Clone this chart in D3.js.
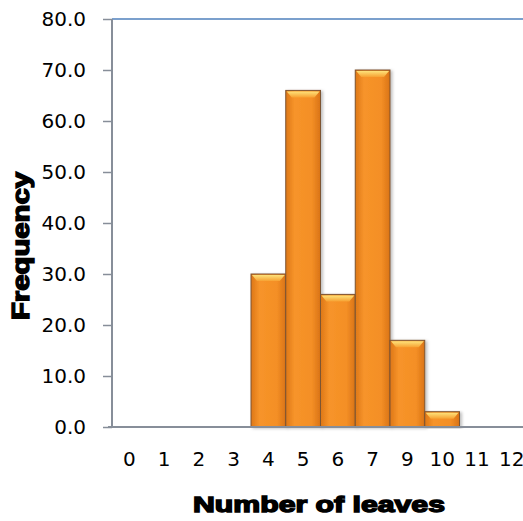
<!DOCTYPE html>
<html>
<head>
<meta charset="utf-8">
<script src="https://cdn.jsdelivr.net/npm/d3@7"></script>
<style>
  body { margin: 0; background: #fff; }
  svg { display: block; }
</style>
</head>
<body>
<div id="chart"></div>
<script>
// Data
const leaves = ["0", "1", "2", "3", "4", "5", "6", "7", "9", "10", "11", "12"];
const frequency = [0, 0, 0, 0, 30, 66, 26, 70, 17, 3, 0, 0];
const yTicks = [0, 10, 20, 30, 40, 50, 60, 70, 80];

const width = 523, height = 521;
const margin = { top: 19, right: -6, bottom: 94, left: 112 };
const innerWidth = width - margin.left - margin.right;
const innerHeight = height - margin.top - margin.bottom;

const svg = d3.select("#chart")
  .append("svg")
    .attr("width", width)
    .attr("height", height);

const defs = svg.append("defs");

// horizontal shading of the bar body
const body = defs.append("linearGradient")
    .attr("id", "barBody")
    .attr("x1", "0").attr("x2", "1").attr("y1", "0").attr("y2", "0");
body.append("stop").attr("offset", "0%").attr("stop-color", "#dd7717");
body.append("stop").attr("offset", "25%").attr("stop-color", "#f7942a");
body.append("stop").attr("offset", "75%").attr("stop-color", "#f48f25");
body.append("stop").attr("offset", "100%").attr("stop-color", "#d97316");

// bevel highlight on top
const bevel = defs.append("linearGradient")
    .attr("id", "barTop")
    .attr("x1", "0").attr("x2", "0").attr("y1", "0").attr("y2", "1");
bevel.append("stop").attr("offset", "0%").attr("stop-color", "#fde27a");
bevel.append("stop").attr("offset", "100%").attr("stop-color", "#f7a233");

// soft shadow
const shadow = defs.append("filter")
    .attr("id", "shadow")
    .attr("x", "-20%").attr("y", "-5%").attr("width", "150%").attr("height", "115%");
shadow.append("feDropShadow")
    .attr("dx", 2).attr("dy", 1)
    .attr("stdDeviation", 1.5)
    .attr("flood-color", "#000")
    .attr("flood-opacity", 0.25);

const g = svg.append("g")
    .attr("transform", `translate(${margin.left}, ${margin.top})`);

const xScale = d3.scaleBand()
  .domain(leaves)
  .range([0, innerWidth])
  .padding(0);

const yScale = d3.scaleLinear()
  .domain([0, 80])
  .range([innerHeight, 0]);

// top border of plot area
g.append("line")
    .attr("x1", 0).attr("x2", innerWidth)
    .attr("y1", 0).attr("y2", 0)
    .attr("stroke", "#4f81bd")
    .attr("stroke-width", 1.5);

// bars
const bars = g.selectAll(".bar")
  .data(leaves.map((k, i) => ({ key: k, value: frequency[i] })).filter(d => d.value > 0))
  .join("g")
    .attr("class", "bar");

bars.append("rect")
    .attr("x", d => xScale(d.key))
    .attr("y", d => yScale(d.value))
    .attr("width", xScale.bandwidth())
    .attr("height", d => yScale(0) - yScale(d.value))
    .attr("fill", "url(#barBody)")
    .attr("stroke", "#7d5432")
    .attr("stroke-width", 1)
    .attr("filter", "url(#shadow)");

// top bevel as a trapezoid
bars.append("path")
    .attr("d", d => {
      const x0 = xScale(d.key) + 1, x1 = xScale(d.key) + xScale.bandwidth() - 1;
      const y0 = yScale(d.value) + 1;
      const h = Math.min(6, (yScale(0) - yScale(d.value)) / 2);
      return `M${x0},${y0}L${x1},${y0}L${x1 - 5},${y0 + h}L${x0 + 5},${y0 + h}Z`;
    })
    .attr("fill", "url(#barTop)");

// y axis
const yAxis = d3.axisLeft(yScale)
  .tickValues(yTicks)
  .tickFormat(d3.format(".1f"))
  .tickSize(9)
  .tickPadding(17);

const yAxisGroup = g.append("g").call(yAxis);
yAxisGroup.select(".domain")
    .attr("d", `M0,0V${innerHeight}`)
    .attr("stroke", "#878e99")
    .attr("stroke-width", 2);
yAxisGroup.selectAll(".tick line")
    .attr("stroke", "#878e99")
    .attr("stroke-width", 1.5);
yAxisGroup.selectAll(".tick text")
    .attr("fill", "#000")
    .style("font-family", "'DejaVu Sans', sans-serif")
    .style("font-size", "20px");

// x axis
const xAxis = d3.axisBottom(xScale)
  .tickSize(0)
  .tickPadding(25);

const xAxisGroup = g.append("g")
    .attr("transform", `translate(0, ${innerHeight})`)
    .call(xAxis);
xAxisGroup.select(".domain")
    .attr("d", `M-4,0H${innerWidth}`)
    .attr("stroke", "#878e99")
    .attr("stroke-width", 2);
xAxisGroup.selectAll(".tick text")
    .attr("fill", "#000")
    .style("font-family", "'DejaVu Sans', sans-serif")
    .style("font-size", "20px");

// axis titles
svg.append("text")
    .text("Number of leaves")
    .attr("x", 319)
    .attr("y", 512)
    .attr("text-anchor", "middle")
    .attr("textLength", 252)
    .attr("lengthAdjust", "spacingAndGlyphs")
    .attr("stroke", "#000")
    .attr("stroke-width", 1.4)
    .style("font-family", "'Liberation Sans', Arial, sans-serif")
    .style("font-size", "22px")
    .style("font-weight", 900);

svg.append("text")
    .text("Frequency")
    .attr("transform", "translate(29, 246) rotate(-90)")
    .attr("text-anchor", "middle")
    .attr("textLength", 148)
    .attr("lengthAdjust", "spacingAndGlyphs")
    .attr("stroke", "#000")
    .attr("stroke-width", 1.4)
    .style("font-family", "'Liberation Sans', Arial, sans-serif")
    .style("font-size", "23px")
    .style("font-weight", 900);
</script>
</body>
</html>
